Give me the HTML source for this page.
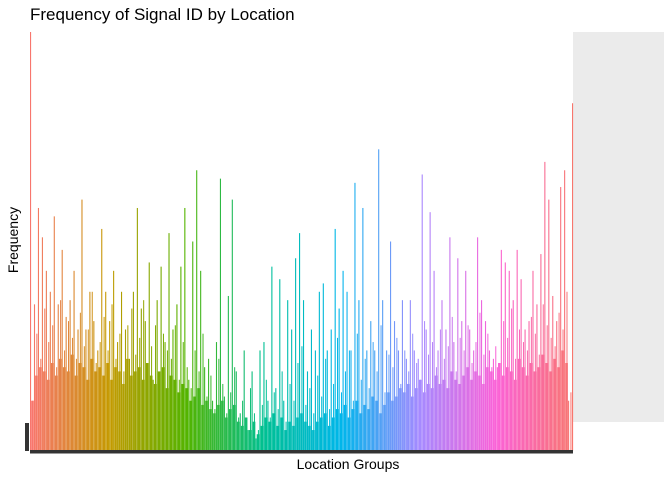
<!DOCTYPE html>
<html><head><meta charset="utf-8"><style>
body{margin:0;background:#fff;}
svg{display:block;font-family:"Liberation Sans",sans-serif;}
</style></head><body>
<svg id="chart" width="672" height="480" viewBox="0 0 672 480">
<rect x="573" y="32" width="91" height="390" fill="#EBEBEB"/>
<text x="30" y="20" font-size="17" fill="#000">Frequency of Signal ID by Location</text>
<text transform="translate(18,240) rotate(-90)" text-anchor="middle" font-size="14" fill="#000">Frequency</text>
<text x="348" y="469" text-anchor="middle" font-size="14" fill="#000">Location Groups</text>
<g id="bars"></g>
<rect x="25" y="423" width="4" height="28" fill="#333"/>
<rect x="30" y="450" width="543" height="3.5" fill="#333"/>
</svg>
<script>
// peak frequency per location slot (100 = max)
const peaks=[100,35,58,51,43,38,56,35,48,32,36,43,29,60,29,38,31,24,53,38,31,43,26,38,29,22,38,58,34,31,45,17,36,44,26,52,29,35,44,58,17,50,67,43,20,22,12,26,65,13,37,60,19,9,24,5,19,3,24,26,12,44,15,41,12,36,29,46,52,36,19,29,24,38,40,24,29,53,34,43,38,24,64,36,58,24,31,24,72,36,24,50,31,24,36,22,36,24,22,66,29,57,43,24,36,29,51,26,46,31,43,29,24,51,36,31,24,22,20,48,45,43,36,48,41,29,31,43,35,47,69,60,37,31,63,67,12,83];
// secondary bar height per slot
const mids=[12,28,22,34,26,30,20,36,24,31,27,22,33,25,29,38,21,26,32,24,35,22,28,19,30,34,23,27,36,21,25,30,18,28,24,22,30,17,26,20,15,24,19,28,13,18,10,22,16,9,14,20,8,12,6,15,9,5,11,17,8,14,10,19,7,16,12,21,25,11,15,9,18,13,22,10,16,27,14,19,24,12,28,17,22,15,26,19,30,14,23,20,27,16,24,19,28,21,17,31,23,26,20,29,22,25,32,19,27,24,30,21,26,33,23,28,20,25,19,31,27,34,22,29,26,24,32,28,23,35,30,27,25,33,29,38,14,30];
// typical neighbouring bar height per slot
const fills=[12,18,20,19,17,21,18,22,20,19,23,18,21,20,17,22,19,20,18,21,17,20,19,16,22,18,19,20,17,21,18,16,19,20,15,18,17,14,16,15,12,13,15,11,12,10,9,11,12,8,10,11,7,6,8,5,7,4,6,8,7,9,6,8,5,7,6,8,9,7,6,5,7,8,9,6,8,10,9,11,8,10,12,9,11,10,13,12,9,11,14,12,13,15,14,16,13,15,17,14,16,15,18,16,17,15,19,17,16,18,20,17,19,18,16,20,19,17,21,18,20,19,17,22,20,18,21,19,20,23,21,19,22,20,24,21];
const stops=[[248,118,109],[196,154,0],[83,180,0],[0,192,148],[0,182,235],[165,138,255],[251,97,215],[248,118,109]];
const x0=30,x1=572,yBase=451,yTop=32;
function xScale(i){return x0+i*(x1-x0)/(peaks.length-1);}
function yScale(v){return yBase-(v/100)*(yBase-yTop);}
function color(i){const t=i/(peaks.length-1)*(stops.length-1);const k=Math.min(Math.floor(t),stops.length-2);const f=t-k;const a=stops[k],b=stops[k+1];return 'rgb('+a.map((c,j)=>Math.round(c+(b[j]-c)*f)).join(',')+')';}
const g=document.getElementById('bars');
const NS='http://www.w3.org/2000/svg';
function addBar(name,x,w,v,c){
  const r=document.createElementNS(NS,'rect');
  
  
  r.setAttribute('x',x);r.setAttribute('y',yScale(v));
  r.setAttribute('width',w);r.setAttribute('height',yBase-yScale(v));
  r.setAttribute('fill',c);g.appendChild(r);
}
peaks.forEach((v,i)=>{
  const x=xScale(i),c=color(i);
  if(i<peaks.length-1){
    addBar('fill-bar',x+1.2,2.6,fills[i],c);
    addBar('mid-bar',x+2.4,1,mids[i],c);
  }
  addBar('bar',x,1.1,v,c);
});
</script>
</body></html>
